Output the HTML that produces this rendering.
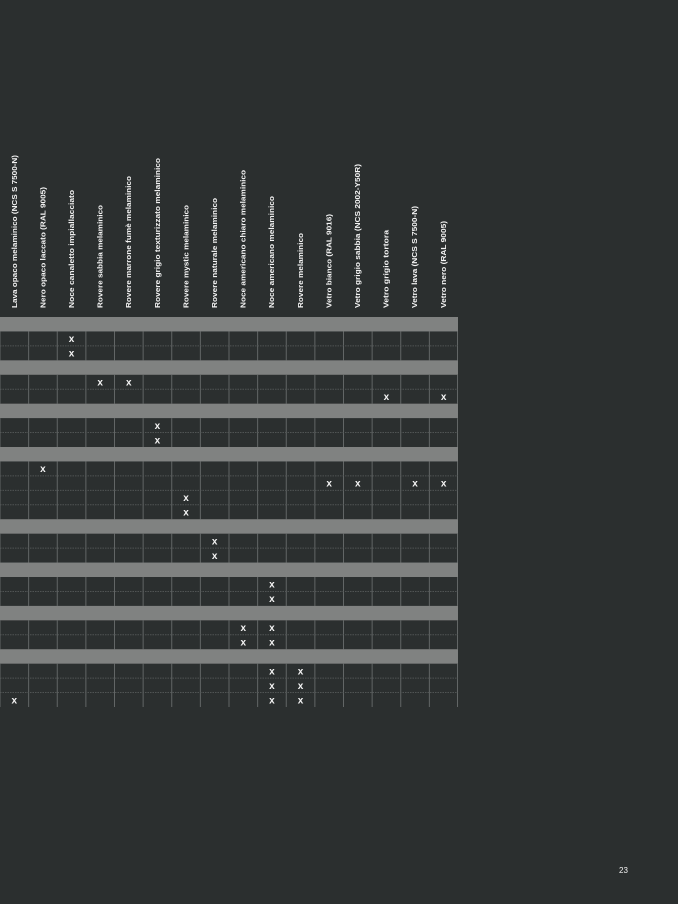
<!DOCTYPE html>
<html><head><meta charset="utf-8"><style>
html,body{margin:0;padding:0;background:#2b2f2f;}
svg{display:block}
text{font-family:"Liberation Sans",sans-serif;fill:#f4f4f4;}
</style></head><body>
<svg width="678" height="904" viewBox="0 0 678 904" xmlns="http://www.w3.org/2000/svg">
<rect width="678" height="904" fill="#2b2f2f"/>
<g font-size="7.4" font-weight="bold">
<text transform="translate(16.8,308) rotate(-90)" textLength="153" lengthAdjust="spacingAndGlyphs">Lava opaco melaminico (NCS S 7500-N)</text>
<text transform="translate(45.4,308) rotate(-90)" textLength="121" lengthAdjust="spacingAndGlyphs">Nero opaco laccato (RAL 9005)</text>
<text transform="translate(74,308) rotate(-90)" textLength="118" lengthAdjust="spacingAndGlyphs">Noce canaletto impiallacciato</text>
<text transform="translate(102.6,308) rotate(-90)" textLength="103" lengthAdjust="spacingAndGlyphs">Rovere sabbia melaminico</text>
<text transform="translate(131.2,308) rotate(-90)" textLength="132" lengthAdjust="spacingAndGlyphs">Rovere marrone fumè melaminico</text>
<text transform="translate(159.8,308) rotate(-90)" textLength="150" lengthAdjust="spacingAndGlyphs">Rovere grigio texturizzato melaminico</text>
<text transform="translate(188.4,308) rotate(-90)" textLength="103" lengthAdjust="spacingAndGlyphs">Rovere mystic melaminico</text>
<text transform="translate(217,308) rotate(-90)" textLength="110" lengthAdjust="spacingAndGlyphs">Rovere naturale melaminico</text>
<text transform="translate(245.6,308) rotate(-90)" textLength="138" lengthAdjust="spacingAndGlyphs">Noce americano chiaro melaminico</text>
<text transform="translate(274.2,308) rotate(-90)" textLength="112" lengthAdjust="spacingAndGlyphs">Noce americano melaminico</text>
<text transform="translate(302.8,308) rotate(-90)" textLength="75" lengthAdjust="spacingAndGlyphs">Rovere melaminico</text>
<text transform="translate(331.4,308) rotate(-90)" textLength="94" lengthAdjust="spacingAndGlyphs">Vetro bianco (RAL 9016)</text>
<text transform="translate(360,308) rotate(-90)" textLength="144" lengthAdjust="spacingAndGlyphs">Vetro grigio sabbia (NCS 2002-Y50R)</text>
<text transform="translate(388.6,308) rotate(-90)" textLength="78" lengthAdjust="spacingAndGlyphs">Vetro grigio tortora</text>
<text transform="translate(417.2,308) rotate(-90)" textLength="102" lengthAdjust="spacingAndGlyphs">Vetro lava (NCS S 7500-N)</text>
<text transform="translate(445.8,308) rotate(-90)" textLength="87" lengthAdjust="spacingAndGlyphs">Vetro nero (RAL 9005)</text>
</g>
<g id="grid"></g>
<text x="619" y="873" font-size="8">23</text>
</svg>
<script>
(function(){
var g=document.getElementById('grid');
var seq='GDDGDDGDDGDDDDGDDGDDGDDGDDD';
var X={1:[2],2:[2],3:[3,4],4:[13,15],5:[5],6:[5],7:[1],8:[11,12,14,15],9:[6],10:[6],11:[7],12:[7],13:[9],14:[9],15:[8,9],16:[8,9],17:[9,10],18:[9,10],19:[0,9,10]};
var y0=317,rh=390/27,cw=458/16,h='',d=0,i,c;
for(i=0;i<27;i++){var y=y0+i*rh;
 if(seq[i]=='G'){h+='<rect x="0" y="'+y+'" width="458" height="'+rh+'" fill="#808281"/>';}
 else{d++;
  for(c=0;c<=16;c++){var x=Math.min(c*cw,457.5);h+='<line x1="'+x+'" y1="'+y+'" x2="'+x+'" y2="'+(y+rh)+'" stroke="#626666" stroke-width="1"/>';}
  if(i+1<27&&seq[i+1]=='D')h+='<line x1="0" y1="'+(y+rh)+'" x2="458" y2="'+(y+rh)+'" stroke="#505454" stroke-width="1" stroke-dasharray="1.5,1"/>';
  (X[d]||[]).forEach(function(k){h+='<text x="'+(k*cw+cw/2)+'" y="'+(y+rh/2+3.5)+'" font-size="10" font-weight="bold" text-anchor="middle">x</text>';});
 }}
g.innerHTML=h;
})();
</script>
</body></html>
